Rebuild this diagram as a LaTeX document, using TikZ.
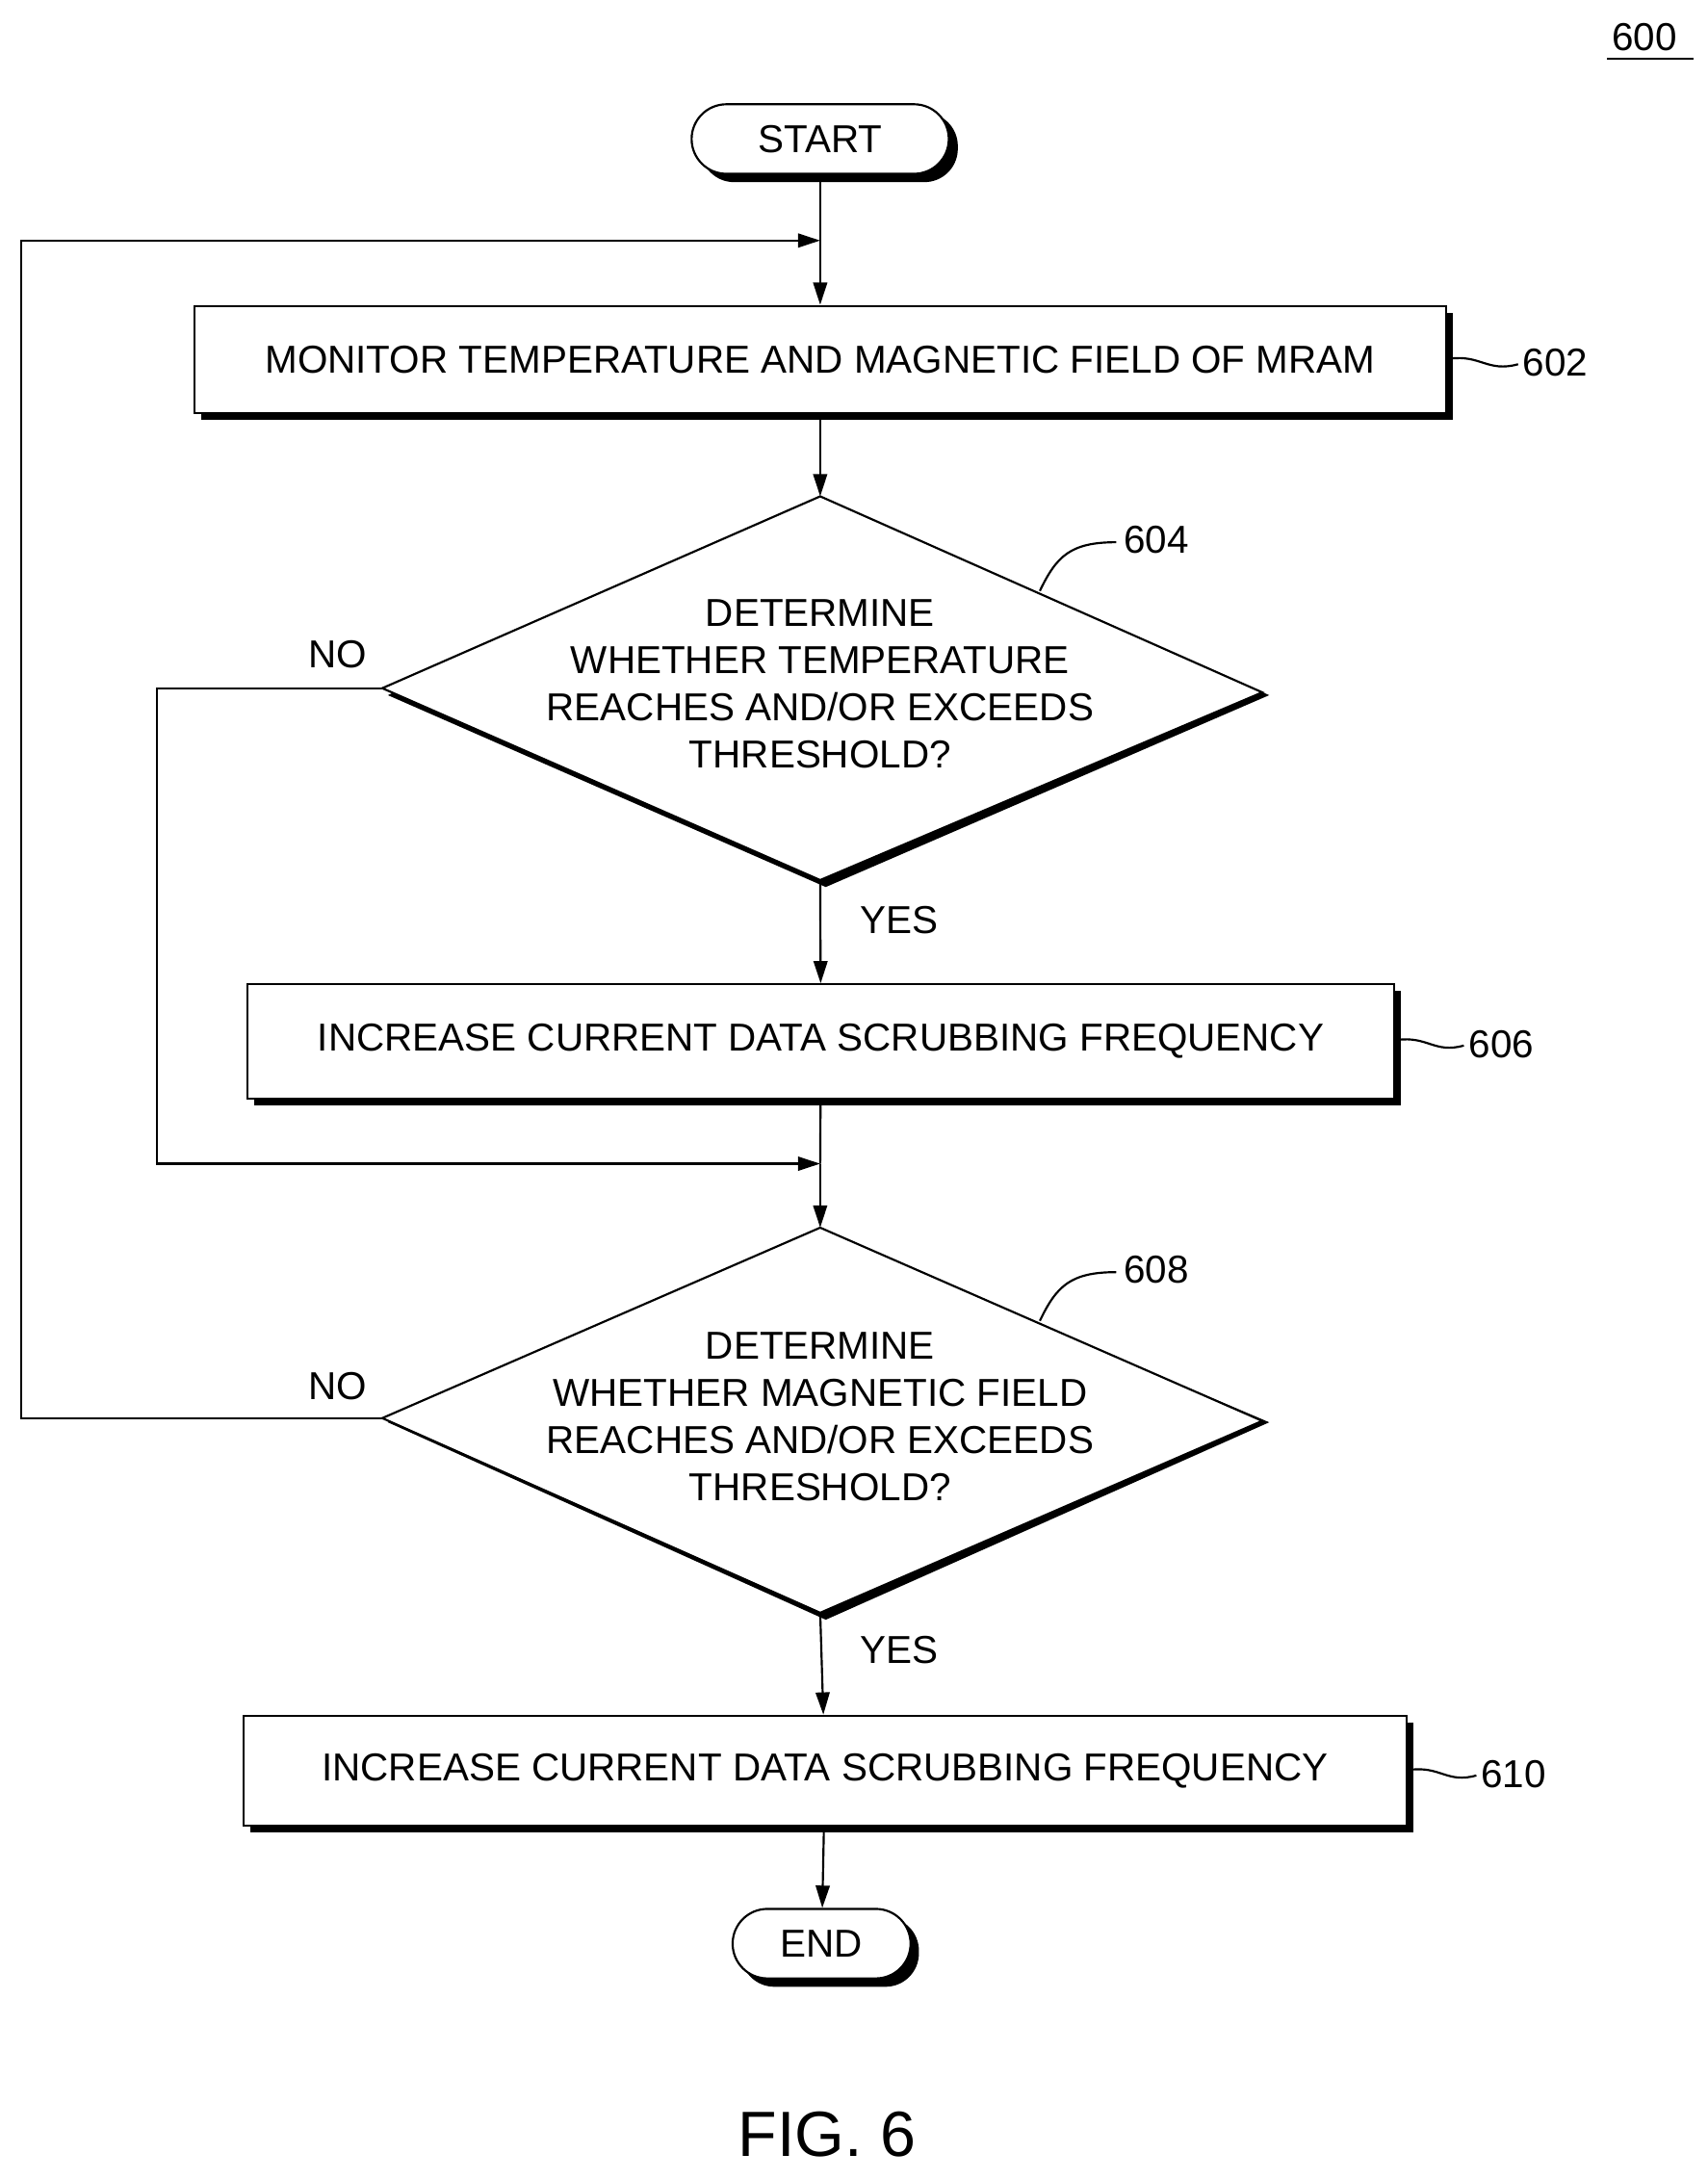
\documentclass[tikz,border=0pt]{standalone}
\usepackage{fontspec}
\setmainfont{Liberation Sans}
\usetikzlibrary{shapes.geometric,shapes.misc,arrows.meta}
\begin{document}
\begin{tikzpicture}[x=1pt,y=-1pt,
  txt/.style={font=\fontsize{28}{34}\selectfont},
  box/.style={draw,line width=1.5pt,fill=white,rectangle,inner sep=0pt,txt},
  term/.style={draw,line width=1.5pt,fill=white,rounded rectangle,inner sep=0pt,txt},
  arr/.style={line width=1.5pt,-{Triangle[length=16pt,width=10pt]}},
  ln/.style={line width=1.5pt},
  lbl/.style={txt}]
\useasboundingbox (0,0) rectangle (1228,1568);
% shadows
\fill[black,rounded corners=24pt] (504,81) rectangle (689,131);
\fill[black,rounded corners=24pt] (533,1379) rectangle (661,1429);
\fill[black] (145,225) rectangle (1045,302);
\fill[black] (183,713) rectangle (1008,795);
\fill[black] (180,1239) rectangle (1017,1318);
\fill[black] (594,362) -- (913,500) -- (594,638) -- (279,500) -- cycle;
\fill[black] (594,888) -- (913,1023) -- (594,1165) -- (279,1023) -- cycle;
% shapes
\node[term,minimum width=185pt,minimum height=50pt] (start) at (590,100) {START};
\node[box,minimum width=900pt,minimum height=77pt] (b602) at (590,258.5) {MONITOR TEMPERATURE AND MAGNETIC FIELD OF MRAM};
\draw[ln,fill=white] (590,357) -- (908,498) -- (590,633) -- (275,495) -- cycle;
\node[txt,align=center] (d604) at (590,492) {DETERMINE\\WHETHER TEMPERATURE\\REACHES AND/OR EXCEEDS\\THRESHOLD?};
\coordinate (d604t) at (590,357);\coordinate (d604b) at (590,633);\coordinate (d604l) at (275,495);
\node[box,minimum width=825pt,minimum height=82pt] (b606) at (590.5,749) {INCREASE CURRENT DATA SCRUBBING FREQUENCY};
\draw[ln,fill=white] (590,883) -- (908,1022) -- (590,1160) -- (275,1020) -- cycle;
\node[txt,align=center] (d608) at (590,1019) {DETERMINE\\WHETHER MAGNETIC FIELD\\REACHES AND/OR EXCEEDS\\THRESHOLD?};
\coordinate (d608t) at (590,883);\coordinate (d608b) at (590,1160);\coordinate (d608l) at (275,1020);
\node[box,minimum width=837pt,minimum height=79pt] (b610) at (593.5,1273.5) {INCREASE CURRENT DATA SCRUBBING FREQUENCY};
\node[term,minimum width=128pt,minimum height=50pt] (end) at (591,1398) {END};
% connectors
\coordinate (j1) at (590,173);
\coordinate (j2) at (590,837);
\draw[ln] (start) -- (j1);
\draw[arr] (j1) -- (b602);
\draw[arr] (b602) -- (d604t);
\draw[arr] (d604b) -- (b606);
\draw[ln] (b606) -- (j2);
\draw[arr] (j2) -- (d608t);
\draw[arr] (d608b) -- (b610);
\draw[arr] (b610) -- (end);
\draw[arr] (d604l) -- (113,495) -- (113,837) -- (j2);
\draw[arr] (d608l) -- (15,1020) -- (15,173) -- (j1);
% labels
\node[lbl] at (243,471) {NO};
\node[lbl] at (243,997) {NO};
\node[lbl] at (647,662) {YES};
\node[lbl] at (647,1187) {YES};
\node[lbl] (l600) at (1183,27) {600};
\draw[ln] (l600.south west)++(0,2) -- ++(62,0);
\node[lbl,anchor=west] (l602) at (1092,261) {602};
\draw[ln] (1043,258) .. controls (1065,255) and (1070,268) .. (1092,262);
\node[lbl,anchor=west] (l604) at (805,388) {604};
\draw[ln] (748,425) .. controls (760,400) and (770,390) .. (803,390);
\node[lbl,anchor=west] (l606) at (1053,751) {606};
\draw[ln] (1005,748) .. controls (1027,745) and (1032,758) .. (1053,752);
\node[lbl,anchor=west] (l608) at (805,913) {608};
\draw[ln] (748,950) .. controls (760,925) and (770,915) .. (803,915);
\node[lbl,anchor=west] (l610) at (1062,1276) {610};
\draw[ln] (1014,1273) .. controls (1036,1270) and (1041,1283) .. (1062,1277);
\node[font=\fontsize{46}{50}\selectfont] (fig) at (595,1535) {FIG. 6};
\end{tikzpicture}
\end{document}
